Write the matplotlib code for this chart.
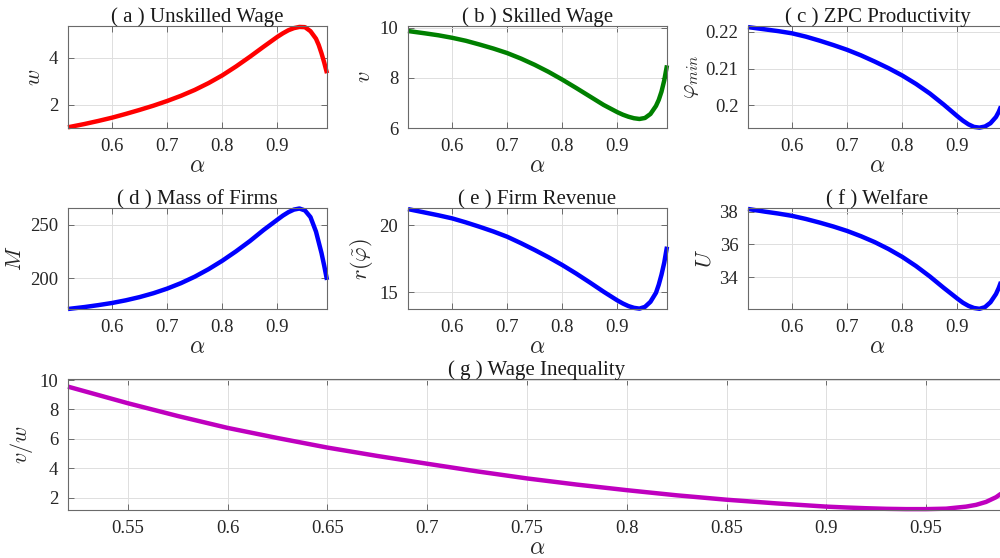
import matplotlib
matplotlib.use("Agg")
import matplotlib.pyplot as plt

plt.rcParams['font.family'] = ['Liberation Serif', 'DejaVu Serif']
plt.rcParams['mathtext.fontset'] = 'cm'

# values
alpha = [0.52, 0.55, 0.575, 0.60, 0.625, 0.65, 0.675, 0.70, 0.725, 0.75,
         0.775, 0.80, 0.825, 0.85, 0.875, 0.90, 0.91, 0.92, 0.93, 0.94,
         0.95, 0.96, 0.97, 0.975, 0.98, 0.985, 0.99]
wage_u = [1.05, 1.19, 1.32, 1.46, 1.62, 1.79, 1.97, 2.17, 2.39, 2.64,
          2.93, 3.26, 3.64, 4.05, 4.48, 4.90, 5.05, 5.18, 5.27, 5.32,
          5.31, 5.14, 4.82, 4.55, 4.20, 3.80, 3.35]
wage_s = [9.87, 9.78, 9.70, 9.60, 9.48, 9.33, 9.17, 8.99, 8.77, 8.52,
          8.24, 7.93, 7.60, 7.26, 6.92, 6.63, 6.53, 6.45, 6.39, 6.36,
          6.40, 6.56, 6.88, 7.12, 7.45, 7.90, 8.50]
phi_min = [0.2213, 0.2207, 0.2202, 0.2196, 0.2187, 0.2176, 0.2164, 0.2151, 0.2136, 0.2119,
           0.2101, 0.2081, 0.2058, 0.2032, 0.2002, 0.1970, 0.1958, 0.1948, 0.1941, 0.1939,
           0.1942, 0.1951, 0.1968, 0.1982, 0.2000, 0.2025, 0.2058]
mass = [171.3, 173.1, 174.9, 176.9, 179.4, 182.4, 186.0, 190.3, 195.4, 201.4,
        208.4, 216.3, 225.1, 234.6, 245.0, 254.6, 258.4, 261.6, 264.0, 265.0,
        263.2, 257.0, 243.5, 233.5, 223.5, 211.5, 198.4]
revenue = [21.19, 20.94, 20.73, 20.50, 20.20, 19.87, 19.52, 19.13, 18.65, 18.14,
           17.60, 17.02, 16.39, 15.72, 15.03, 14.38, 14.15, 13.96, 13.83, 13.77,
           13.90, 14.28, 14.95, 15.55, 16.30, 17.20, 18.39]
welfare = [38.16, 38.00, 37.88, 37.74, 37.55, 37.33, 37.09, 36.82, 36.50, 36.14,
           35.72, 35.24, 34.68, 34.05, 33.36, 32.70, 32.45, 32.26, 32.13, 32.08,
           32.18, 32.48, 32.98, 33.35, 33.80, 34.35, 35.00]
ratio = [9.55, 8.42, 7.55, 6.74, 6.05, 5.40, 4.83, 4.30, 3.78, 3.30,
         2.88, 2.50, 2.15, 1.85, 1.60, 1.38, 1.32, 1.27, 1.23, 1.21,
         1.21, 1.24, 1.38, 1.50, 1.70, 2.02, 2.50]

panels = [
    # title, ylabel, data, color, ylim, yticks, yticklabels
    ("( a ) Unskilled Wage", r"$w$", wage_u, "#ff0000", (1.02, 5.36), [2, 4], None),
    ("( b ) Skilled Wage", r"$v$", wage_s, "#008000", (6.0, 10.07), [6, 8, 10], None),
    ("( c ) ZPC Productivity", r"$\varphi_{min}$", phi_min, "#0000ff", (0.1938, 0.2216),
     [0.2, 0.21, 0.22], ["0.2", "0.21", "0.22"]),
    ("( d ) Mass of Firms", r"$M$", mass, "#0000ff", (171.0, 265.2), [200, 250], None),
    ("( e ) Firm Revenue", r"$r(\tilde{\varphi})$", revenue, "#0000ff", (13.72, 21.25), [15, 20], None),
    ("( f ) Welfare", r"$U$", welfare, "#0000ff", (32.05, 38.2), [34, 36, 38], None),
]

W, H = 1000, 558
fig = plt.figure(figsize=(10, 5.58), dpi=100)

col_left = [68, 408, 748]
row_box = [(26, 128), (208.3, 309.3)]
ax_w = 259


def style(ax):
    ax.set_axisbelow(True)
    ax.grid(True, color="#dedede", lw=0.7)
    for s in ax.spines.values():
        s.set_color("#6a6a6a")
        s.set_linewidth(0.8)
    ax.tick_params(direction="in", top=True, right=True, length=4, width=0.7,
                   colors="#6a6a6a", labelcolor="#262626", labelsize=13.5, pad=7)


for i, (title, ylab, data, color, ylim, yt, ytl) in enumerate(panels):
    r, c = divmod(i, 3)
    top, bot = row_box[r]
    ax = fig.add_axes([col_left[c] / W, (H - bot) / H, ax_w / W, (bot - top) / H])
    style(ax)
    ax.plot(alpha, data, color=color, lw=3.2, clip_on=False,
            solid_capstyle="butt", solid_joinstyle="round")
    ax.set_xlim(0.52, 0.99)
    ax.set_ylim(*ylim)
    ax.set_xticks([0.6, 0.7, 0.8, 0.9])
    ax.set_xticklabels(["0.6", "0.7", "0.8", "0.9"])
    ax.set_yticks(yt)
    if ytl:
        ax.set_yticklabels(ytl)
    ax.set_title(title, fontsize=15, pad=3, color="#1a1a1a")
    ax.set_xlabel(r"$\alpha$", fontsize=17, labelpad=1, color="#262626")
    ax.set_ylabel(ylab, fontsize=16, labelpad=3, color="#262626")

# wide bottom panel
axg = fig.add_axes([68 / W, (H - 510) / H, 938 / W, (510 - 379.3) / H])
style(axg)
axg.plot(alpha, ratio, color="#bf00bf", lw=3.2, clip_on=False,
         solid_capstyle="butt", solid_joinstyle="round")
axg.set_xlim(0.52, 0.99)
axg.set_ylim(1.15, 10.05)
axg.set_xticks([0.55, 0.6, 0.65, 0.7, 0.75, 0.8, 0.85, 0.9, 0.95])
axg.set_xticklabels(["0.55", "0.6", "0.65", "0.7", "0.75", "0.8", "0.85", "0.9", "0.95"])
axg.set_yticks([2, 4, 6, 8, 10])
axg.set_title("( g ) Wage Inequality", fontsize=15, pad=3, color="#1a1a1a")
axg.set_xlabel(r"$\alpha$", fontsize=17, labelpad=1, color="#262626")
axg.set_ylabel(r"$v/w$", fontsize=16, labelpad=3, color="#262626")

fig.savefig("out.png", dpi=100)
